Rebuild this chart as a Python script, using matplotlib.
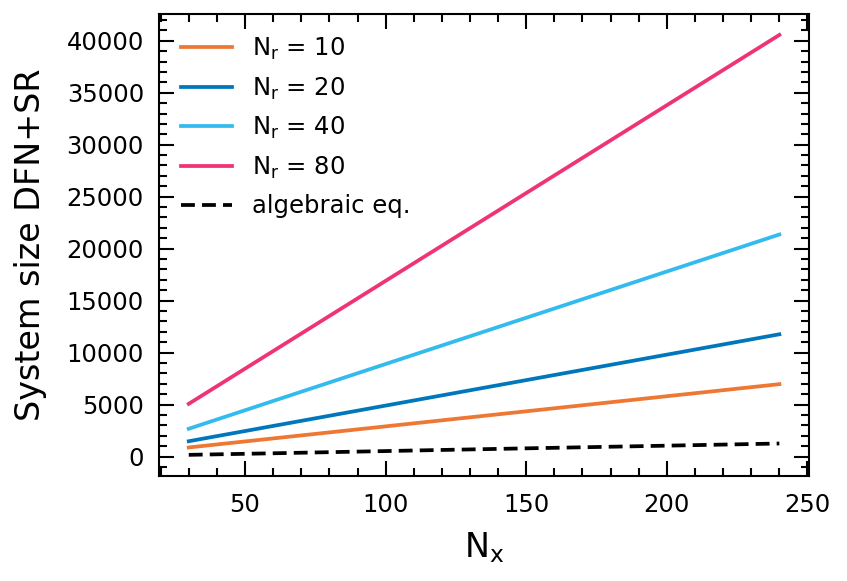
import matplotlib
matplotlib.use('Agg')
import matplotlib.pyplot as plt
from matplotlib.ticker import MultipleLocator

# data
nx = [30, 60, 120, 240]
size_nr10 = [870, 1740, 3480, 6960]
size_nr20 = [1470, 2940, 5880, 11760]
size_nr40 = [2670, 5340, 10680, 21360]
size_nr80 = [5070, 10140, 20280, 40560]
size_alg = [160, 310, 630, 1250]

plt.rcParams['mathtext.default'] = 'regular'
plt.rcParams['font.family'] = 'DejaVu Sans'

fig = plt.figure(figsize=(8.47, 5.81), dpi=100)
ax = fig.add_axes([0.188, 0.181, 0.767, 0.795])

lw = 2.7
ax.plot(nx, size_nr10, color='#EE7733', lw=lw, label=r'$N_r$ = 10')
ax.plot(nx, size_nr20, color='#0077BB', lw=lw, label=r'$N_r$ = 20')
ax.plot(nx, size_nr40, color='#33BBEE', lw=lw, label=r'$N_r$ = 40')
ax.plot(nx, size_nr80, color='#EE3377', lw=lw, label=r'$N_r$ = 80')
ax.plot(nx, size_alg, color='black', lw=lw, ls=(0, (3.7, 1.9)), label='algebraic eq.')

ax.set_xlabel(r'$N_x$', fontsize=24, labelpad=10)
ax.set_ylabel('System size DFN+SR', fontsize=24, labelpad=14)

ax.xaxis.set_major_locator(MultipleLocator(50))
ax.xaxis.set_minor_locator(MultipleLocator(10))
ax.yaxis.set_major_locator(MultipleLocator(5000))
ax.yaxis.set_minor_locator(MultipleLocator(1000))
ax.tick_params(which='both', direction='in', top=True, right=True, labelsize=17.5, width=1.5)
ax.tick_params(which='major', length=11)
ax.tick_params(axis='y', which='major', pad=11)
ax.tick_params(axis='x', which='major', pad=12)
ax.tick_params(which='minor', length=6)
for s in ax.spines.values():
    s.set_linewidth(1.5)

ax.legend(loc='upper left', frameon=False, fontsize=17.5, handlelength=2.1,
          borderaxespad=0.5, labelspacing=0.55)

fig.savefig('out.png', dpi=100)
